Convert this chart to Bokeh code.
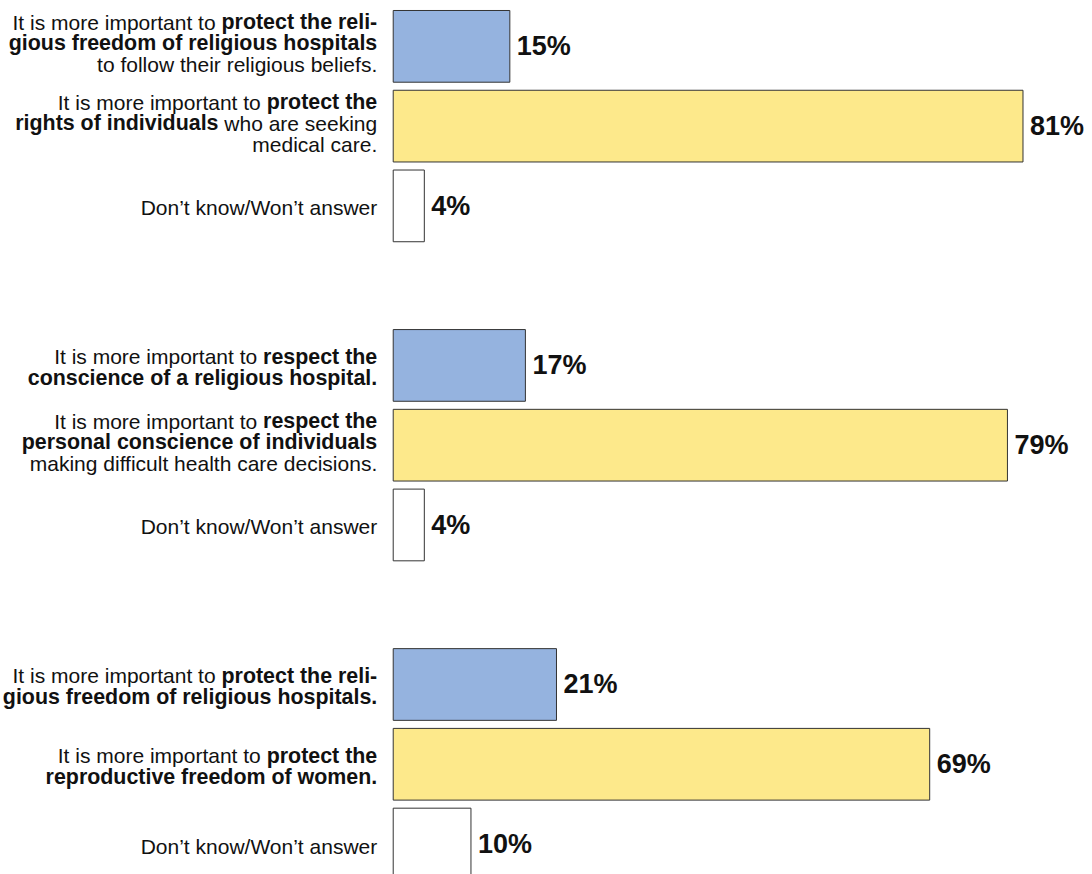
from bokeh.plotting import figure
from bokeh.models import Range1d, ColumnDataSource
from bokeh.core.properties import value
from bokeh.embed import file_html
from bokeh.resources import INLINE

# ---- data ----
religious_pct = [15, 17, 21]
individual_pct = [81, 79, 69]
dontknow_pct = [4, 4, 10]
series_colors = ["#95b3df", "#fde98b", "#ffffff"]

# label lines: list of (text, bold) segments per line
labels_g1 = [
    [[("It is more important to", False), ("protect the reli-", True)],
     [("gious freedom of religious hospitals", True)],
     [("to follow their religious beliefs.", False)]],
    [[("It is more important to", False), ("protect the", True)],
     [("rights of individuals", True), ("who are seeking", False)],
     [("medical care.", False)]],
    [[("Don’t know/Won’t answer", False)]],
]
labels_g2 = [
    [[("It is more important to", False), ("respect the", True)],
     [("conscience of a religious hospital.", True)]],
    [[("It is more important to", False), ("respect the", True)],
     [("personal conscience of individuals", True)],
     [("making difficult health care decisions.", False)]],
    [[("Don’t know/Won’t answer", False)]],
]
labels_g3 = [
    [[("It is more important to", False), ("protect the reli-", True)],
     [("gious freedom of religious hospitals.", True)]],
    [[("It is more important to", False), ("protect the", True)],
     [("reproductive freedom of women.", True)]],
    [[("Don’t know/Won’t answer", False)]],
]
all_labels = [labels_g1, labels_g2, labels_g3]

# ---- font metrics (Helvetica / Liberation Sans, per 1000 em) ----
UP = "ABCDEFGHIJKLMNOPQRSTUVWXYZ"
LO = "abcdefghijklmnopqrstuvwxyz"
REG = dict(zip(UP, [667,667,722,722,667,611,778,722,278,500,667,556,833,722,778,667,778,722,667,611,722,667,944,667,667,611]))
REG.update(zip(LO, [556,556,500,556,556,278,556,556,222,222,500,222,833,556,556,556,556,333,500,278,556,500,722,500,500,500]))
REG.update({" ": 278, ".": 278, ",": 278, "-": 333, "’": 222, "/": 278, "%": 889})
BLD = dict(zip(UP, [722,722,722,722,667,611,778,722,278,556,722,611,833,722,778,667,778,722,667,611,722,667,944,667,667,611]))
BLD.update(zip(LO, [556,611,556,611,556,333,611,611,278,278,556,278,889,611,611,611,611,389,556,333,611,556,778,556,556,500]))
BLD.update({" ": 278, ".": 278, ",": 278, "-": 333, "’": 278, "/": 278, "%": 889})

FS = {False: 21.0, True: 21.4}   # label font sizes px (regular, bold)
LH = 21.0      # line height px
GAP = 16.0     # gap between label right edge and bar start
BLOCK_SHIFT = {1: 2.0, 2: 2.0, 3: -3.0}


def tw(s, bold):
    t = BLD if bold else REG
    return sum(t.get(c, 556) for c in s) * FS[bold] / 1000.0


p = figure(width=1092, height=874, output_backend="svg", toolbar_location=None,
           x_range=Range1d(-50.51, 89.94), y_range=Range1d(10.382, -0.5748),
           min_border=0, x_axis_location=None, y_axis_location=None)
p.outline_line_color = None
p.xgrid.visible = False
p.ygrid.visible = False

series = [religious_pct, individual_pct, dontknow_pct]
bars = dict(y=[], right=[], color=[], lab=[])
for g in range(3):
    for i in range(3):
        slot = g * 4 + i
        bars["y"].append(slot)
        bars["right"].append(series[i][g])
        bars["color"].append(series_colors[i])
        bars["lab"].append(f"{series[i][g]}%")
src = ColumnDataSource(bars)
p.hbar(y="y", left=0, right="right", height=0.899, fill_color="color",
       line_color="#333333", line_width=1, source=src)
p.text(x="right", y="y", text="lab", source=src, x_offset=7,
       text_baseline="middle", text_align="left", text_font=value("Liberation Sans"),
       text_font_style="bold", text_font_size="27px", text_color="#111111")

segs = {False: dict(x=[], y=[], xo=[], yo=[], t=[]), True: dict(x=[], y=[], xo=[], yo=[], t=[])}
for g, glabels in enumerate(all_labels):
    for i, lines in enumerate(glabels):
        slot = g * 4 + i
        n = len(lines)
        for k, line in enumerate(lines):
            yo = (k - (n - 1) / 2.0) * LH + BLOCK_SHIFT[n]
            right = -GAP
            for text, bold in reversed(line):
                d = segs[bold]
                d["x"].append(0)
                d["y"].append(slot)
                d["xo"].append(right)
                d["yo"].append(yo)
                d["t"].append(text)
                right -= tw(text, bold) + tw(" ", False)

for bold, d in segs.items():
    p.text(x="x", y="y", text="t", x_offset="xo", y_offset="yo",
           source=ColumnDataSource(d), text_align="right", text_baseline="middle",
           text_font=value("Liberation Sans"), text_font_size=f"{FS[bold]}px",
           text_font_style="bold" if bold else "normal", text_color="#111111")

open("out.html", "w").write(file_html(p, INLINE))
